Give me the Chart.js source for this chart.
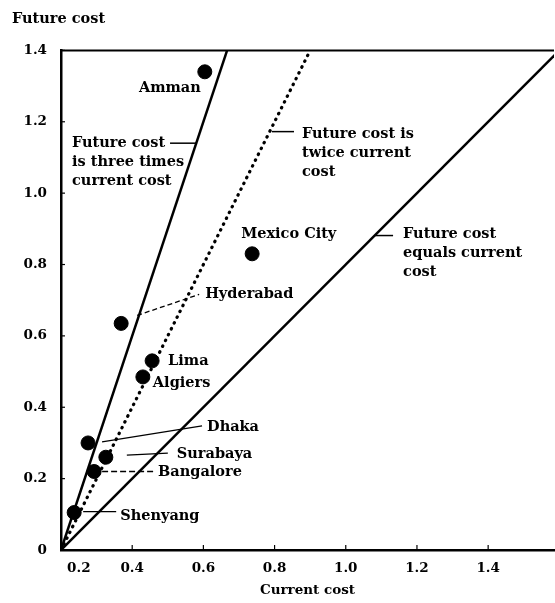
<!DOCTYPE html>
<html><head><meta charset="utf-8">
<script src="https://cdn.jsdelivr.net/npm/chart.js@4/dist/chart.umd.min.js"></script>
<style>html,body{margin:0;padding:0;background:#fff;overflow:hidden}canvas{display:block}</style>
</head><body><canvas id="c" width="555" height="603"></canvas>
<script>
// ---- data ----
const cities = ['Amman','Mexico City','Hyderabad','Lima','Algiers','Dhaka','Surabaya','Bangalore','Shenyang'];
const currentCost = [0.404, 0.537, 0.169, 0.256, 0.230, 0.076, 0.126, 0.093, 0.037];
const futureCost  = [1.34, 0.83, 0.635, 0.53, 0.485, 0.30, 0.26, 0.22, 0.105];
const ratios = [3, 2, 1];
const ratioLabels = [
  ['Future cost','is three times','current cost'],
  ['Future cost is','twice current','cost'],
  ['Future cost','equals current','cost']
];
const xTickValues = [0.05, 0.2, 0.4, 0.6, 0.8, 1.0, 1.2];
const xTickLabels = ['0.2','0.4','0.6','0.8','1.0','1.2','1.4'];
const yMax = 1.4;
const xMax = 1.385;

// ---- label layout (pixel offsets, styling only) ----
const cityLabelStyle = {
  'Amman':      {dx:-4, dy:16, align:'right'},
  'Mexico City':{dx:-11, dy:-20},
  'Hyderabad':  {dx:84, dy:-29, leader:[16,-8,78,-29], dash:[5,3]},
  'Lima':       {dx:16, dy:0},
  'Algiers':    {dx:10, dy:6},
  'Dhaka':      {dx:119, dy:-16, leader:[14,-1,114,-17]},
  'Surabaya':   {dx:71, dy:-3, leader:[21,-2,62,-4]},
  'Bangalore':  {dx:64, dy:1, leader:[8,0,62,0], dash:[6,3]},
  'Shenyang':   {dx:46, dy:4, leader:[9,-1,42,-1]}
};
const ratioLabelStyle = [
  {ax:0.031, ay:1.14, leader:[98,0,125,0]},
  {ax:0.677, ay:1.164, leader:[-30,-3,-8,-3]},
  {ax:0.961, ay:0.884, leader:[-28,1,-10,1]}
];

const FONT = 'DejaVu Serif';
const lineDatasets = ratios.map((k,i)=>({
  type:'line',
  label: ratioLabels[i].join(' '),
  data:[{x:0,y:0},{x:yMax/k,y:yMax}],
  borderColor:'#000', borderWidth: k===2?3.2:2.5,
  borderDash: k===2?[0.5,6]:[],
  borderCapStyle: k===2?'round':'butt',
  pointRadius:0, fill:false, clip:0
}));

const annot = {
  id:'annot',
  afterDatasetsDraw(chart){
    const ctx = chart.ctx, xs = chart.scales.x, ys = chart.scales.y, ca = chart.chartArea;
    ctx.save();
    ctx.strokeStyle='#000'; ctx.lineWidth=2;
    ctx.beginPath(); ctx.moveTo(ca.left, ca.top); ctx.lineTo(ca.right, ca.top); ctx.stroke();
    ctx.lineWidth=1.2;
    ys.ticks.forEach(t=>{ const py=ys.getPixelForValue(t.value); ctx.beginPath(); ctx.moveTo(ca.left,py); ctx.lineTo(ca.left+4,py); ctx.stroke(); });
    xs.ticks.forEach((t,i)=>{ if(i===0) return; const px=xs.getPixelForValue(t.value); ctx.beginPath(); ctx.moveTo(px,ca.bottom); ctx.lineTo(px,ca.bottom-5); ctx.stroke(); });
    ctx.font = 'bold 14.5px "'+FONT+'"';
    ctx.fillStyle='#000'; ctx.textBaseline='middle';
    cities.forEach((name,i)=>{
      const s = cityLabelStyle[name]; if(!s) return;
      const px = xs.getPixelForValue(currentCost[i]), py = ys.getPixelForValue(futureCost[i]);
      ctx.textAlign = s.align||'left';
      ctx.fillText(name, px+s.dx, py+s.dy);
      if(s.leader){
        ctx.setLineDash(s.dash||[]); ctx.lineWidth=1.3;
        ctx.beginPath(); ctx.moveTo(px+s.leader[0],py+s.leader[1]); ctx.lineTo(px+s.leader[2],py+s.leader[3]); ctx.stroke();
        ctx.setLineDash([]);
      }
    });
    ctx.textAlign='left';
    ratioLabels.forEach((lines,i)=>{
      const s = ratioLabelStyle[i];
      const px = xs.getPixelForValue(s.ax), py = ys.getPixelForValue(s.ay);
      lines.forEach((t,j)=>ctx.fillText(t, px, py + j*19));
      ctx.lineWidth=1.5;
      ctx.beginPath(); ctx.moveTo(px+s.leader[0],py+s.leader[1]); ctx.lineTo(px+s.leader[2],py+s.leader[3]); ctx.stroke();
    });
    ctx.restore();
  }
};

new Chart(document.getElementById('c'), {
  data:{
    datasets:[
      ...lineDatasets,
      {type:'scatter', label:'Cities', data: cities.map((c,i)=>({x:currentCost[i], y:futureCost[i]})),
       backgroundColor:'#000', borderColor:'#000', pointRadius:7, pointHoverRadius:7}
    ]
  },
  options:{
    responsive:false, animation:false, devicePixelRatio:1,
    layout:{autoPadding:false, padding:{left:12, right:1, top:0, bottom:0}},
    plugins:{
      legend:{display:false}, tooltip:{enabled:false},
      title:{display:true, text:'Future cost', align:'start', color:'#000',
        font:{family:FONT, size:14.5, weight:'bold'}, padding:{top:11, bottom:22}}
    },
    scales:{
      x:{type:'linear', min:0, max:xMax,
        afterBuildTicks(s){ s.ticks = xTickValues.map(v=>({value:v})); },
        afterFit(s){ s.height = 53; },
        ticks:{ callback:(v,i)=>xTickLabels[i], color:'#000', padding:10, maxRotation:0, autoSkip:false,
          font:{family:FONT, size:13.5, weight:'bold'} },
        grid:{display:false, drawTicks:false},
        border:{display:true, color:'#000', width:2.5},
        title:{display:true, text:'Current cost', color:'#000', font:{family:FONT, size:13.5, weight:'bold'}, padding:{top:4,bottom:4}}
      },
      y:{type:'linear', min:0, max:yMax,
        afterFit(s){ s.width = 49; },
        ticks:{ stepSize:0.2, color:'#000', padding:14,
          callback:v=> v===0 ? '0' : v.toFixed(1),
          font:{family:FONT, size:13.5, weight:'bold'} },
        grid:{display:false, drawTicks:false},
        border:{display:true, color:'#000', width:2.5}
      }
    }
  },
  plugins:[annot]
});
</script></body></html>
